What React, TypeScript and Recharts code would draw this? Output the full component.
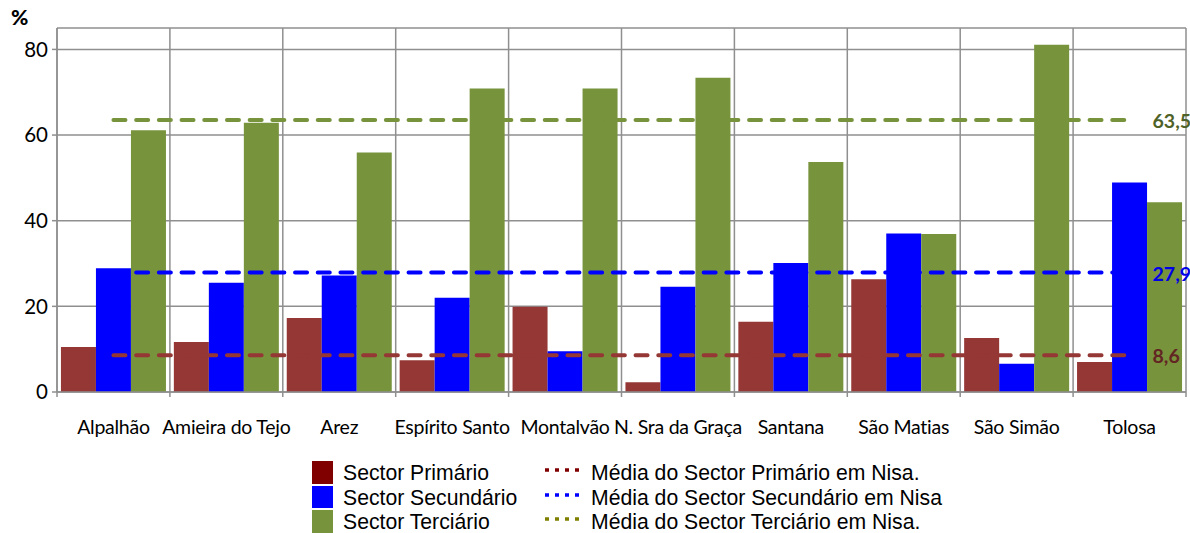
import React from "react";
import { ComposedChart, Bar, Line, XAxis, YAxis, CartesianGrid } from "recharts";

const categories = [
  "Alpalhão",
  "Amieira do Tejo",
  "Arez",
  "Espírito Santo",
  "Montalvão",
  "N. Sra da Graça",
  "Santana",
  "São Matias",
  "São Simão",
  "Tolosa",
];
const sectorPrimario = [10.5, 11.7, 17.3, 7.4, 19.9, 2.3, 16.4, 26.3, 12.6, 7.0];
const sectorSecundario = [28.9, 25.5, 27.2, 22.0, 9.5, 24.6, 30.1, 37.0, 6.6, 48.9];
const sectorTerciario = [61.1, 62.9, 55.9, 70.9, 70.9, 73.4, 53.7, 36.9, 81.1, 44.3];
const mediaPrimario = 8.6;
const mediaSecundario = 27.9;
const mediaTerciario = 63.5;
const yTicks = [0, 20, 40, 60, 80];

const data = categories.map((name, i) => ({
  name,
  primario: sectorPrimario[i],
  secundario: sectorSecundario[i],
  terciario: sectorTerciario[i],
  mPrimario: mediaPrimario,
  mSecundario: mediaSecundario,
  mTerciario: mediaTerciario,
}));

const GRID = "#8f8f8f";
const TICK_FONT = "Lato, 'DejaVu Sans', sans-serif";
const LEGEND_FONT = "'Liberation Sans', Arial, sans-serif";

const CategoryTick = (props: any) => {
  const { x, y, payload, index, width, visibleTicksCount } = props;
  const half = width / visibleTicksCount / 2;
  return (
    <g>
      <line x1={x - half} x2={x - half} y1={y} y2={y + 5} stroke={GRID} strokeWidth={1.5} />
      {index === visibleTicksCount - 1 && (
        <line x1={x + half} x2={x + half} y1={y} y2={y + 5} stroke={GRID} strokeWidth={1.5} />
      )}
      <text
        x={x}
        y={y}
        dy={42}
        textAnchor="middle"
        fontFamily={TICK_FONT}
        fontSize={19.5}
        letterSpacing={-0.25}
        fill="#000"
      >
        {payload.value}
      </text>
    </g>
  );
};

const endLabel = (color: string, text: string) => (props: any) => {
  const { x, y, index } = props;
  if (index !== categories.length - 1) return <g />;
  return (
    <text x={x + 23} y={y} dy={8} fontFamily={TICK_FONT} fontWeight={700} fontSize={19.5} fill={color}>
      {text}
    </text>
  );
};

const legendLeft = [
  { label: "Sector Primário", color: "#800000" },
  { label: "Sector Secundário", color: "#0000ff" },
  { label: "Sector Terciário", color: "#77933c" },
];
const legendRight = [
  { label: "Média do Sector Primário em Nisa.", color: "#800000" },
  { label: "Média do Sector Secundário em Nisa", color: "#0000ff" },
  { label: "Média do Sector Terciário em Nisa.", color: "#808000" },
];

function ChartLegend() {
  return (
    <div style={{ position: "absolute", left: 312, top: 461, fontFamily: LEGEND_FONT, fontSize: 21.2, color: "#000" }}>
      {legendLeft.map((item, i) => (
        <div key={item.label} style={{ position: "absolute", left: 0, top: i * 24.5, height: 24, whiteSpace: "nowrap" }}>
          <div style={{ position: "absolute", left: 0, top: 0, width: 21, height: 22.5, background: item.color }} />
          <div style={{ position: "absolute", left: 31, top: 0, lineHeight: "24px" }}>{item.label}</div>
        </div>
      ))}
      {legendRight.map((item, i) => (
        <div key={item.label} style={{ position: "absolute", left: 232, top: i * 24.5, height: 24, whiteSpace: "nowrap" }}>
          <svg width={36} height={24} style={{ position: "absolute", left: 0, top: 0 }}>
            <line x1={1} x2={36} y1={9} y2={9} stroke={item.color} strokeWidth={3.5} strokeDasharray="4 6" />
          </svg>
          <div style={{ position: "absolute", left: 47, top: 0, lineHeight: "24px" }}>{item.label}</div>
        </div>
      ))}
    </div>
  );
}

export default function App() {
  return (
    <div style={{ position: "absolute", left: 0, top: 0, width: 1190, height: 533, background: "#fff" }}>
      <ComposedChart
        width={1190}
        height={533}
        data={data}
        margin={{ top: 28, right: 4, bottom: 0, left: 0 }}
        barCategoryGap="3.5%"
        barGap={0}
      >
        <CartesianGrid
          stroke={GRID}
          strokeWidth={1.5}
          verticalCoordinatesGenerator={({ offset }: any) =>
            Array.from({ length: categories.length + 1 }, (_, i) => offset.left + (i * offset.width) / categories.length)
          }
        />
        <XAxis
          dataKey="name"
          interval={0}
          height={141}
          tickLine={false}
          tickSize={0}
          tickMargin={0}
          axisLine={{ stroke: GRID, strokeWidth: 1.5 }}
          tick={<CategoryTick />}
        />
        <YAxis
          width={57}
          domain={[0, 85]}
          ticks={yTicks}
          tickSize={5}
          tickMargin={4}
          axisLine={{ stroke: GRID, strokeWidth: 1.5 }}
          tickLine={{ stroke: GRID, strokeWidth: 1.5 }}
          tick={{ fontFamily: TICK_FONT, fontSize: 20.5, fill: "#000" }}
          label={(p: any) => (
            <text x={11} y={p.viewBox.y - 3} fontFamily={TICK_FONT} fontWeight={900} fontSize={21} fill="#000">
              %
            </text>
          )}
        />
        <Bar dataKey="primario" fill="#953735" isAnimationActive={false} />
        <Bar dataKey="secundario" fill="#0000ff" isAnimationActive={false} />
        <Bar dataKey="terciario" fill="#77933c" isAnimationActive={false} />
        <Line
          dataKey="mTerciario"
          stroke="#77933c"
          strokeWidth={4}
          strokeLinecap="round"
          strokeDasharray="12 10.7"
          dot={false}
          activeDot={false}
          isAnimationActive={false}
          label={endLabel("#4f6228", "63,5")}
        />
        <Line
          dataKey="mSecundario"
          stroke="#0000ff"
          strokeWidth={4}
          strokeLinecap="round"
          strokeDasharray="12 10.7"
          dot={false}
          activeDot={false}
          isAnimationActive={false}
          label={endLabel("#0000e6", "27,9")}
        />
        <Line
          dataKey="mPrimario"
          stroke="#953735"
          strokeWidth={4}
          strokeLinecap="round"
          strokeDasharray="12 10.7"
          dot={false}
          activeDot={false}
          isAnimationActive={false}
          label={endLabel("#632523", "8,6")}
        />
      </ComposedChart>
      <ChartLegend />
    </div>
  );
}
